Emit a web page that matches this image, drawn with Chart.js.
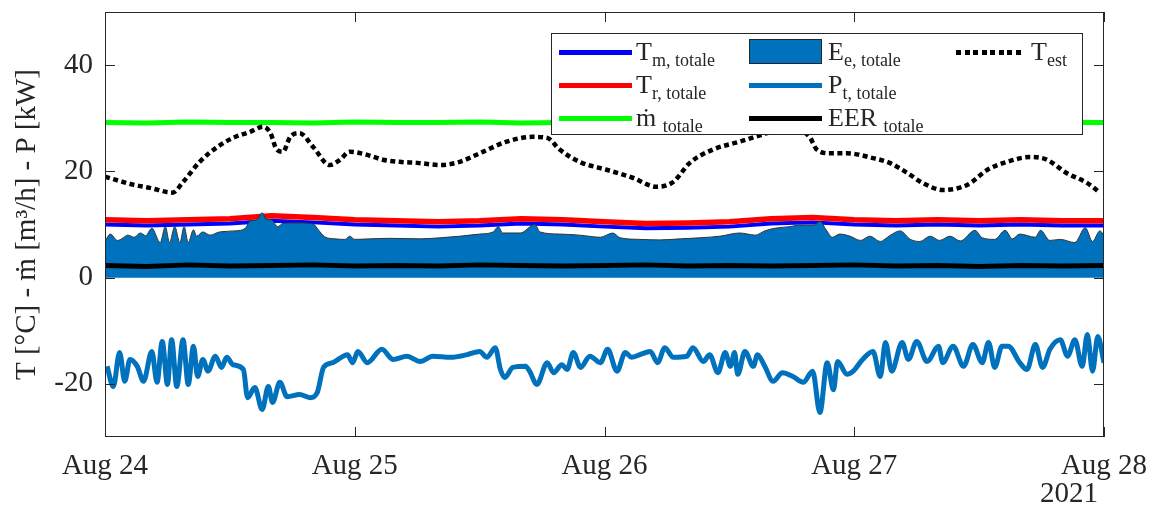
<!DOCTYPE html>
<html>
<head>
<meta charset="utf-8">
<script src="https://cdn.jsdelivr.net/npm/chart.js@4.4.0/dist/chart.umd.min.js"></script>
<style>
  body { margin: 0; background: #fff; }
  #wrap { position: relative; width: 1158px; height: 516px; font-family: "Liberation Serif", serif; color: #262626; }
  #legend { position: absolute; left: 551px; top: 33px; width: 530px; height: 100px; border: 1px solid #262626; background: #fff; }
  #legend .ln { position: absolute; height: 5px; }
  #legend .tx { position: absolute; font-size: 26px; line-height: 26px; white-space: nowrap; }
  #legend sub { font-size: 18px; vertical-align: -6px; line-height: 0; }
  #year { position: absolute; left: 1040px; top: 478px; font-size: 29px; line-height: 29px; }
</style>
</head>
<body>
<div id="wrap">
  <canvas id="chart" width="1158" height="516"></canvas>
  <div id="legend">
    <div class="ln" style="left:7px;top:16px;width:73px;background:#0000ff"></div>
    <div class="tx" style="left:84px;top:5px">T<sub>m, totale</sub></div>
    <div class="ln" style="left:7px;top:49px;width:73px;background:#ff0000"></div>
    <div class="tx" style="left:84px;top:38px">T<sub>r, totale</sub></div>
    <div class="ln" style="left:7px;top:82px;width:73px;background:#00ff00"></div>
    <div class="tx" style="left:84px;top:71px">ṁ <sub>totale</sub></div>

    <div style="position:absolute;left:197px;top:5px;width:71px;height:23px;background:#0072bd;border:1px solid #262626"></div>
    <div class="tx" style="left:276px;top:5px">E<sub>e, totale</sub></div>
    <div class="ln" style="left:197px;top:49px;width:73px;background:#0072bd"></div>
    <div class="tx" style="left:276px;top:38px">P<sub>t, totale</sub></div>
    <div class="ln" style="left:197px;top:82px;width:73px;background:#000"></div>
    <div class="tx" style="left:276px;top:71px">EER <sub>totale</sub></div>

    <div class="ln" style="left:404px;top:16px;width:68px;background:repeating-linear-gradient(90deg,#000 0 5px,transparent 5px 8.5px)"></div>
    <div class="tx" style="left:479px;top:5px">T<sub>est</sub></div>
  </div>
  <div id="year">2021</div>
</div>
<script>
// asse x in ore dal 24 agosto 2021 00:00
const xLabels = ["Aug 24", "Aug 25", "Aug 26", "Aug 27", "Aug 28"];
const yTicks = [-20, 0, 20, 40];

// serie lente, campionate ogni 4 ore
const hours4 = [0, 4, 8, 12, 16, 20, 24, 28, 32, 36, 40, 44, 48, 52, 56, 60, 64, 68, 72, 76, 80, 84, 88, 92, 96];
const tmTot = [10.0, 9.8, 10.0, 10.2, 10.7, 10.4, 10.0, 9.8, 9.6, 9.8, 10.2, 10.0, 9.6, 9.3, 9.4, 9.6, 10.2, 10.4, 10.0, 9.8, 10.0, 9.8, 10.0, 9.8, 9.8];
const trTot = [10.9, 10.7, 10.9, 11.1, 11.65, 11.3, 10.9, 10.7, 10.5, 10.7, 11.1, 10.9, 10.5, 10.2, 10.3, 10.5, 11.1, 11.3, 10.9, 10.7, 10.9, 10.7, 10.9, 10.7, 10.7];
const mdotTot = [29.2, 29.1, 29.3, 29.2, 29.2, 29.1, 29.3, 29.2, 29.2, 29.3, 29.1, 29.2, 29.2, 29.2, 29.3, 29.1, 29.2, 29.2, 29.3, 29.2, 29.1, 29.2, 29.3, 29.2, 29.2];
const eerTot = [2.3, 2.1, 2.4, 2.2, 2.3, 2.4, 2.2, 2.3, 2.2, 2.4, 2.3, 2.2, 2.3, 2.4, 2.2, 2.3, 2.2, 2.3, 2.4, 2.2, 2.3, 2.1, 2.3, 2.2, 2.3];

// energia elettrica
const eeHours = [
  0.0, 0.5, 1.2, 1.6, 2.2, 2.8, 3.4, 3.9, 4.5, 5.3,
  5.8, 6.2, 6.7, 7.2, 7.6, 8.0, 8.5, 8.8, 9.4, 10.1,
  11.0, 12.5, 13.5, 13.9, 14.6, 15.1, 15.5, 16.0, 16.6, 17.1,
  18.7, 20.0, 20.5, 21.1, 22.1, 23.1, 23.5, 24.0, 25.5, 27.4,
  30.3, 32.2, 34.1, 36.0, 37.3, 37.8, 38.2, 39.9, 41.3, 41.8,
  43.7, 45.6, 47.6, 48.8, 49.5, 51.4, 53.3, 55.3, 57.2, 59.1,
  61.0, 62.5, 63.4, 64.4, 65.8, 66.8, 68.2, 68.7, 69.3, 69.9,
  70.6, 71.6, 72.6, 73.5, 74.5, 75.4, 76.4, 77.4, 78.3, 79.3,
  80.2, 81.2, 82.2, 83.6, 84.3, 85.5, 86.5, 87.2, 87.9, 89.4,
  89.9, 90.8, 91.8, 93.2, 94.2, 94.9, 95.6, 96.0
];
const eeTot = [
  6.8, 8.2, 7.0, 7.3, 8.0, 7.6, 8.4, 7.9, 9.3, 6.6,
  9.6, 6.6, 9.6, 6.6, 9.6, 6.6, 9.0, 7.8, 8.6, 8.0,
  8.6, 8.8, 9.3, 10.6, 10.9, 12.2, 11.0, 10.9, 9.6, 10.2,
  10.3, 10.1, 9.0, 7.7, 7.3, 7.2, 7.8, 7.2, 7.3, 7.4,
  7.3, 7.5, 7.8, 8.2, 8.6, 9.6, 8.4, 8.4, 10.0, 8.6,
  8.2, 8.0, 7.6, 8.4, 7.5, 7.2, 7.1, 7.3, 7.5, 7.8,
  8.4, 8.0, 8.8, 9.3, 9.6, 9.9, 9.9, 10.6, 9.0, 7.6,
  8.2, 7.8, 7.0, 7.8, 6.8, 7.9, 8.8, 7.2, 6.8, 7.8,
  7.0, 7.8, 6.9, 8.9, 7.5, 7.2, 8.9, 7.3, 8.2, 7.6,
  8.9, 7.0, 7.2, 6.6, 9.4, 6.8, 8.8, 8.0
];

// potenza termica
const ptHours = [
  0.2, 0.8, 1.4, 1.9, 2.4, 3.1, 3.7, 4.5, 5.0, 5.5,
  6.0, 6.4, 6.9, 7.5, 8.0, 8.5, 8.9, 9.4, 9.9, 10.6,
  11.2, 11.7, 12.3, 13.3, 13.7, 14.4, 15.1, 15.7, 16.1, 16.8,
  17.5, 18.7, 19.7, 20.4, 21.0, 21.9, 23.3, 23.8, 24.3, 25.2,
  26.6, 27.7, 29.0, 30.3, 31.5, 33.2, 34.8, 36.0, 36.7, 37.5,
  38.0, 38.4, 39.2, 40.4, 40.8, 41.5, 42.5, 43.1, 43.9, 44.4,
  45.0, 45.7, 46.6, 47.6, 48.3, 49.2, 50.0, 50.6, 51.4, 52.4,
  53.1, 53.8, 54.6, 55.9, 56.5, 57.5, 58.1, 58.9, 59.6, 60.1,
  60.5, 60.8, 61.5, 62.3, 62.7, 63.4, 64.2, 65.1, 66.1, 67.1,
  68.0, 68.7, 69.4, 70.0, 70.4, 71.3, 71.9, 72.8, 73.8, 74.5,
  75.0, 75.6, 76.6, 77.2, 78.0, 79.0, 80.1, 80.5, 81.5, 82.5,
  83.4, 84.3, 84.9, 85.5, 86.2, 86.8, 87.9, 88.6, 89.4, 90.1,
  90.8, 91.8, 92.5, 93.2, 93.9, 94.4, 94.9, 95.4, 96.0
];
const ptTot = [
  -16.7, -20.5, -14.1, -19.5, -15.4, -16.7, -19.5, -13.9, -19.7, -12.0,
  -20.1, -11.7, -20.5, -11.7, -20.1, -12.9, -18.6, -15.4, -17.6, -14.8,
  -16.9, -15.0, -16.4, -17.3, -22.6, -20.7, -24.8, -20.5, -23.5, -19.7,
  -22.4, -22.0, -22.6, -21.6, -16.9, -16.0, -14.5, -16.0, -13.9, -16.0,
  -13.5, -15.4, -14.8, -15.8, -14.8, -15.0, -14.5, -13.9, -15.0, -13.2,
  -17.3, -18.8, -16.9, -16.7, -17.6, -20.1, -16.0, -17.9, -16.4, -17.3,
  -14.1, -16.9, -14.8, -16.0, -13.5, -17.6, -14.1, -15.0, -14.5, -13.9,
  -16.0, -13.2, -15.0, -14.8, -13.2, -15.8, -14.5, -17.9, -14.1, -16.7,
  -14.1, -18.2, -13.9, -16.7, -14.5, -16.7, -19.5, -17.9, -18.6, -19.7,
  -17.6, -25.4, -16.0, -21.1, -15.8, -18.2, -17.6, -15.4, -13.9, -18.6,
  -12.2, -17.6, -12.2, -15.4, -12.0, -15.8, -12.9, -16.0, -12.9, -16.7,
  -12.6, -16.0, -12.2, -16.9, -12.9, -12.9, -16.0, -17.3, -12.6, -16.9,
  -13.5, -11.7, -14.8, -11.7, -16.7, -10.7, -17.6, -11.1, -16.0
];

// temperatura esterna
const testHours = [
  0, 2.7, 4.3, 6.5, 7.5, 9.1, 10.8, 12.3, 13.9, 15.2,
  15.9, 16.5, 17.1, 17.8, 18.7, 20.0, 21.6, 22.6, 23.5, 25.2,
  26.7, 28.3, 30.0, 32.2, 34.1, 36.0, 38.6, 41.1, 42.5, 43.7,
  45.6, 48.2, 50.7, 53.0, 54.6, 56.2, 58.4, 61.0, 63.6, 65.8,
  67.7, 68.4, 69.7, 71.3, 73.8, 75.4, 77.1, 78.6, 80.5, 82.9,
  84.8, 86.7, 88.9, 90.5, 92.4, 94.4, 95.6
];
const testVals = [
  19.0, 17.5, 16.9, 16.0, 18.0, 21.8, 24.6, 26.3, 27.4, 28.4,
  27.2, 24.1, 23.7, 26.5, 27.2, 24.6, 21.2, 22.2, 23.7, 23.1,
  22.2, 21.8, 21.6, 21.2, 21.8, 23.4, 25.6, 26.5, 26.3, 24.1,
  21.8, 20.3, 18.8, 17.1, 18.0, 21.6, 24.1, 25.6, 27.2, 28.4,
  26.5, 24.1, 23.4, 23.4, 22.5, 21.6, 19.7, 17.8, 16.5, 17.5,
  20.3, 21.8, 22.7, 22.2, 19.7, 17.8, 16.0
];

const pts = (xs, ys) => xs.map((x, i) => ({ x: x, y: ys[i] }));
const fontFam = "'Liberation Serif', 'Times New Roman', serif";

// riquadro e tacche interne stile MATLAB
const boxPlugin = {
  id: "box",
  afterDatasetsDraw(chart) {
    const { ctx, chartArea: a, scales } = chart;
    ctx.save();
    ctx.strokeStyle = "#262626";
    ctx.lineWidth = 1;
    ctx.beginPath();
    yTicks.forEach(v => {
      const py = Math.round(scales.y.getPixelForValue(v)) + 0.5;
      ctx.moveTo(a.left, py); ctx.lineTo(a.left + 10, py);
      ctx.moveTo(a.right, py); ctx.lineTo(a.right - 10, py);
    });
    xLabels.forEach((lab, i) => {
      const px = Math.round(scales.x.getPixelForValue(i * 24)) + 0.5;
      ctx.moveTo(px, a.bottom); ctx.lineTo(px, a.bottom - 10);
      ctx.moveTo(px, a.top); ctx.lineTo(px, a.top + 10);
    });
    ctx.stroke();
    ctx.strokeRect(Math.round(a.left) + 0.5, Math.round(a.top) + 0.5, Math.round(a.right - a.left) - 1, Math.round(a.bottom - a.top) - 1);
    ctx.restore();
  }
};

const ctx = document.getElementById("chart").getContext("2d");
new Chart(ctx, {
  type: "line",
  data: {
    datasets: [
      { label: "Tm, totale", data: pts(hours4, tmTot), borderColor: "#0000ff", borderWidth: 4, order: 7 },
      { label: "Tr, totale", data: pts(hours4, trTot), borderColor: "#ff0000", borderWidth: 5.5, order: 6 },
      { label: "mdot totale", data: pts(hours4, mdotTot), borderColor: "#00ff00", borderWidth: 5, order: 5 },
      { label: "Ee, totale", data: pts(eeHours, eeTot), borderColor: "#333333", borderWidth: 1, backgroundColor: "#0072bd", fill: "origin", cubicInterpolationMode: "monotone", order: 4 },
      { label: "Pt, totale", data: pts(ptHours, ptTot), borderColor: "#0072bd", borderWidth: 5, cubicInterpolationMode: "monotone", order: 3 },
      { label: "EER totale", data: pts(hours4, eerTot), borderColor: "#000000", borderWidth: 5, order: 2 },
      { label: "Test", data: pts(testHours, testVals), borderColor: "#000000", borderWidth: 4.5, borderDash: [5, 3.5], borderCapStyle: "butt", cubicInterpolationMode: "monotone", order: 1 }
    ]
  },
  options: {
    responsive: false,
    animation: false,
    devicePixelRatio: 1,
    layout: { padding: { left: 0, right: 54, top: 12, bottom: 0 } },
    elements: { point: { radius: 0 }, line: { tension: 0, borderJoinStyle: "round" } },
    plugins: { legend: { display: false }, tooltip: { enabled: false } },
    scales: {
      x: {
        type: "linear",
        min: 0,
        max: 96,
        grid: { display: false, drawTicks: false },
        border: { display: false },
        afterFit: s => { s.height = 79; s.paddingLeft = 0; s.paddingRight = 0; },
        afterBuildTicks: s => { s.ticks = xLabels.map((lab, i) => ({ value: i * 24 })); },
        ticks: {
          callback: v => xLabels[v / 24] || "",
          maxRotation: 0,
          autoSkip: false,
          padding: 12,
          color: "#262626",
          font: { family: fontFam, size: 29 }
        }
      },
      y: {
        min: -30,
        max: 50,
        grid: { display: false, drawTicks: false },
        border: { display: false },
        afterFit: s => { s.width = 105; s.paddingTop = 0; s.paddingBottom = 0; },
        afterBuildTicks: s => { s.ticks = yTicks.map(v => ({ value: v })); },
        ticks: {
          padding: 12,
          color: "#262626",
          font: { family: fontFam, size: 29 }
        },
        title: {
          display: true,
          text: "T [°C] - ṁ [m³/h] - P [kW]",
          color: "#262626",
          padding: { top: 10, bottom: 0 },
          font: { family: fontFam, size: 29 }
        }
      }
    }
  },
  plugins: [boxPlugin]
});
</script>
</body>
</html>
